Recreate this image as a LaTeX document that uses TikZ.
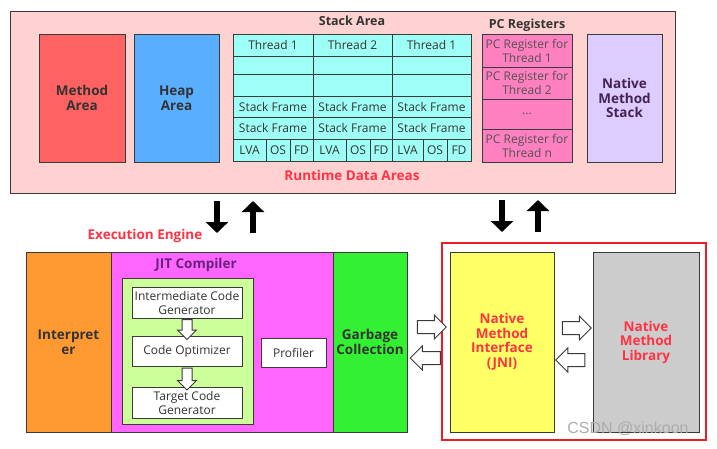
\documentclass[tikz,border=0pt]{standalone}
\usepackage{fontspec}
\setmainfont{Open Sans}
\newfontfamily\wmfont{Liberation Sans}
\usetikzlibrary{shapes.arrows,arrows.meta,calc}
\definecolor{edge}{HTML}{3A3A3A}
\definecolor{txt}{HTML}{333333}
\definecolor{pinkbg}{HTML}{FFD2D2}
\definecolor{methodred}{HTML}{FF6262}
\definecolor{heapblue}{HTML}{5AAEFF}
\definecolor{cyancell}{HTML}{9EFFF6}
\definecolor{pcpink}{HTML}{FF80C0}
\definecolor{nmsfill}{HTML}{DDCCFF}
\definecolor{nmstext}{HTML}{442255}
\definecolor{orangefill}{HTML}{FF9A33}
\definecolor{magfill}{HTML}{FF66FF}
\definecolor{jitpurple}{HTML}{66227A}
\definecolor{lgreen}{HTML}{CCFF99}
\definecolor{gcgreen}{HTML}{33F033}
\definecolor{yellowfill}{HTML}{FFFF66}
\definecolor{greyfill}{HTML}{CCCCCC}
\definecolor{redtext}{HTML}{FF3344}
\definecolor{redframe}{HTML}{EE1C24}
\begin{document}
\begin{tikzpicture}[x=1pt,y=-1pt,
  reg/.style={font=\fontsize{12}{14}\selectfont},
  bld/.style={font=\fontsize{13.5}{14.5}\selectfont\bfseries},
  ttl/.style={font=\fontsize{12.5}{14}\selectfont\bfseries},
  corners/.style n args={4}{minimum width={(#3-#1)*1pt},minimum height={(#4-#2)*1pt},
     at={({(#1+#3)/2},{(#2+#4)/2})}},
  box/.style={draw=edge,line width=1pt,inner sep=0pt,align=center,text=txt,rectangle},
  cell/.style={box,fill=cyancell,reg},
  pccell/.style={box,fill=pcpink,reg,text=txt!85},
  wbox/.style={box,fill=white,reg},
  blk/.style={line width=5.5pt,-{Triangle[length=11pt,width=22pt]}},
  hollowh/.style={single arrow,draw=edge,fill=white,line width=1pt,inner xsep=0pt,inner ysep=6pt,
     single arrow head extend=5.5pt,single arrow head indent=0pt},
  hollowv/.style={single arrow,draw=edge,fill=white,line width=1pt,inner ysep=0pt,inner xsep=4.5pt,
     single arrow head extend=4.5pt,single arrow head indent=0pt,shape border rotate=270}]
\useasboundingbox (0,0) rectangle (717,448);
\fill[white] (0,0) rectangle (717,448);

% Runtime data areas
\node[box,fill=pinkbg,corners={10}{11}{675}{193}] (rda) {};
\node[box,fill=methodred,bld,corners={39}{34}{125}{162}] (method) {Method\\Area};
\node[box,fill=heapblue,bld,corners={134}{34}{219}{162}] (heap) {Heap\\Area};
\node[ttl,text=txt] (stacktitle) at (352,21) {Stack Area};
\foreach \c/\xa/\xb/\t/\p/\q in {1/233/313/Thread 1/266/290, 2/313/392/Thread 2/346/370, 3/392/471/Thread 1/423/447} {
  \node[cell,corners={\xa}{34}{\xb}{56}] (th\c) {\t};
  \node[cell,corners={\xa}{56}{\xb}{74}] (ea\c) {};
  \node[cell,corners={\xa}{74}{\xb}{96}] (eb\c) {};
  \node[cell,corners={\xa}{96}{\xb}{117}] (sfa\c) {Stack Frame};
  \node[cell,corners={\xa}{117}{\xb}{139}] (sfb\c) {Stack Frame};
  \node[cell,corners={\xa}{139}{\p}{161}] (lva\c) {LVA};
  \node[cell,corners={\p}{139}{\q}{161}] (os\c) {OS};
  \node[cell,corners={\q}{139}{\xb}{161}] (fd\c) {FD};
}
\node[bld,text=redtext] (rdatitle) at (352,175) {Runtime Data Areas};
\node[ttl,text=txt] (pctitle) at (527,25) {PC Registers};
\node[pccell,corners={482}{34}{572}{67}] (pc1) {PC Register for\\Thread 1};
\node[pccell,corners={482}{67}{572}{99}] (pc2) {PC Register for\\Thread 2};
\node[pccell,corners={482}{99}{572}{129}] (pc3) {...};
\node[pccell,corners={482}{129}{572}{162}] (pc4) {PC Register for\\Thread n};
\node[box,fill=nmsfill,bld,text=nmstext,corners={587}{34}{662}{162}] (nms) {Native\\Method\\Stack};

% black arrows
\coordinate (d1s) at (217,201); \coordinate (d1e) at (217,233);
\coordinate (u1s) at (253,233); \coordinate (u1e) at (253,201);
\coordinate (d2s) at (502,200); \coordinate (d2e) at (502,232);
\coordinate (u2s) at (538,232); \coordinate (u2e) at (538,200);
\draw[blk] (d1s) -- (d1e);
\draw[blk] (u1s) -- (u1e);
\draw[blk] (d2s) -- (d2e);
\draw[blk] (u2s) -- (u2e);

% Execution engine
\node[bld,text=redtext] (eetitle) at (145,236) {Execution Engine};
\node[box,fill=orangefill,bld,corners={26}{252}{111}{432}] (interp) {Interpret\\er};
\node[box,fill=magfill,corners={111}{252}{333}{432}] (jit) {};
\node[bld,text=jitpurple] (jittitle) at (196,265) {JIT Compiler};
\node[box,fill=lgreen,corners={122}{278}{253}{424}] (jitin) {};
\node[wbox,corners={132}{287}{242}{318}] (icg) {Intermediate Code\\Generator};
\node[wbox,corners={132}{336}{242}{366}] (opt) {Code Optimizer};
\node[wbox,corners={132}{387}{242}{418}] (tcg) {Target Code\\Generator};
\node[wbox,corners={261}{338}{326}{367}] (prof) {Profiler};
\node[hollowv,minimum height=20pt] (a1) at ($(icg.south)!0.5!(opt.north)$) {};
\node[hollowv,minimum height=22pt] (a2) at ($(opt.south)!0.5!(tcg.north)$) {};
\node[box,fill=gcgreen,bld,corners={333}{252}{407}{432}] (gc) {Garbage\\Collection};

% Native interface
\node[draw=redframe,line width=2.6pt,inner sep=0pt,corners={442}{243}{706}{440}] (redbox) {};
\node[box,fill=yellowfill,bld,text=redtext,corners={450}{252}{554}{432}] (jni) {Native\\Method\\Interface\\(JNI)};
\node[box,fill=greyfill,bld,text=redtext,corners={593}{252}{699}{432}] (lib) {Native\\Method\\Library};
\node[hollowh,minimum height=29pt] (h1) at ([yshift=15pt]$(gc.east)!0.5!(jni.west)$) {};
\node[hollowh,shape border rotate=180,minimum height=30pt] (h2) at ([yshift=-16pt]$(gc.east)!0.5!(jni.west)$) {};
\node[hollowh,minimum height=29pt] (h3) at ([yshift=14pt]$(jni.east)!0.5!(lib.west)$) {};
\node[hollowh,shape border rotate=180,minimum height=29pt] (h4) at ([yshift=-18pt]$(jni.east)!0.5!(lib.west)$) {};

\node[text=gray!65,font=\fontsize{16}{18}\selectfont\wmfont] (wm) at (628,429) {CSDN @xinkoon};
\end{tikzpicture}
\end{document}
